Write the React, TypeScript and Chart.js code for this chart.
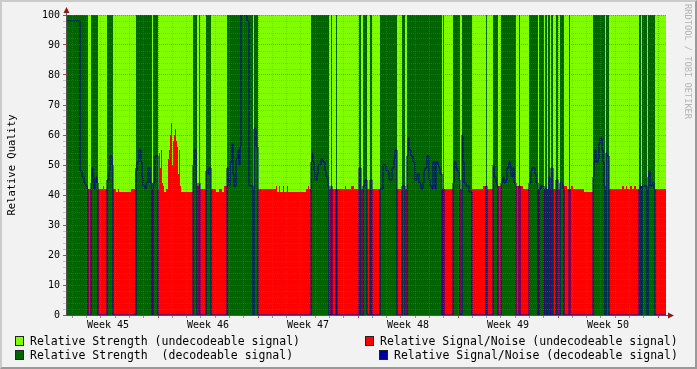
import React, { useEffect, useRef } from 'react';
import { Chart, registerables } from 'chart.js';

Chart.register(...registerables);

// ---- data ----------------------------------------------------------------
// Time axis: 600 columns, 100 columns per week; week 45 starts at column 92.
const TOTAL_COLUMNS = 600;
const COLUMNS_PER_WEEK = 100;
const FIRST_WEEK_START = 92;
const WEEK_LABELS = ['Week 45', 'Week 46', 'Week 47', 'Week 48', 'Week 49', 'Week 50'];

// [start, end) columns where the signal was decodeable
const decodeableSpans: [number, number][] = [
  [0, 22], [25, 32], [41, 47], [70, 86], [87, 92],
  [127, 131], [133, 134], [140, 145], [161, 187], [188, 192],
  [245, 263], [265, 266], [270, 271], [293, 295], [297, 301], [304, 306],
  [314, 331], [336, 339], [341, 376], [377, 378], [387, 394], [396, 406],
  [420, 421], [427, 432], [435, 450], [453, 454], [463, 472], [473, 478],
  [479, 481], [482, 484], [485, 487], [490, 492], [494, 498],
  [503, 504], [527, 539], [540, 543], [573, 575], [576, 581], [582, 589],
];

// relative signal/noise: [column where value starts, value]
const signalNoise: [number, number][] = [
  [0, 98], [14, 48], [16, 46], [18, 44], [20, 43], [21, 42],
  [25, 44], [26, 49], [27, 46], [28, 42], [29, 44], [30, 46], [31, 44], [32, 42], [37, 43], [38, 42],
  [41, 45], [43, 48], [44, 53], [46, 50], [47, 42], [50, 41], [52, 42], [53, 41], [65, 42], [69, 49],
  [70, 48], [71, 51], [73, 55], [75, 51], [76, 46], [77, 43], [79, 42], [80, 44], [82, 49], [84, 44],
  [86, 42], [87, 44], [89, 53], [92, 42], [93, 54], [94, 49], [95, 55], [96, 44], [97, 43], [98, 41],
  [100, 42], [102, 52], [103, 55], [104, 60], [105, 64], [106, 50], [107, 58], [108, 60], [109, 62],
  [110, 58], [111, 56], [112, 47], [113, 55], [114, 43], [115, 41],
  [127, 50], [128, 55], [130, 44], [131, 43], [133, 44], [134, 42], [140, 48], [142, 47], [143, 49],
  [145, 42], [150, 41], [153, 42], [156, 41], [158, 43],
  [161, 49], [162, 45], [163, 43], [164, 51], [166, 57], [167, 47], [168, 43], [170, 52], [172, 55],
  [173, 50], [174, 56], [175, 100], [181, 98], [183, 43], [187, 42], [188, 62], [190, 56],
  [192, 42], [210, 43], [211, 41], [213, 43], [214, 41], [217, 43], [218, 41], [221, 43], [222, 41],
  [240, 42], [242, 43], [243, 42],
  [245, 51], [246, 54], [247, 51], [248, 48], [249, 45], [251, 47], [252, 50], [255, 52], [257, 51],
  [259, 48], [260, 46], [262, 43],
  [263, 42], [265, 43], [266, 42], [279, 43], [280, 42], [285, 43], [288, 42],
  [293, 49], [295, 42], [297, 43], [299, 45], [301, 42], [304, 45], [306, 42],
  [314, 42], [317, 50], [320, 48], [323, 45], [326, 49], [328, 52], [329, 55], [331, 42], [336, 43], [339, 42],
  [341, 53], [342, 59], [343, 55], [345, 53], [347, 51], [349, 45], [351, 47], [353, 44], [355, 42],
  [357, 44], [358, 48], [359, 49], [361, 53], [363, 45], [364, 43], [366, 42], [367, 51], [369, 42],
  [370, 51], [372, 50], [373, 49], [374, 47],
  [376, 42], [387, 44], [388, 51], [390, 49], [391, 48], [393, 45], [394, 42],
  [396, 60], [397, 51], [398, 44], [400, 43], [403, 41],
  [406, 42], [417, 43], [420, 43], [421, 42], [427, 50], [428, 46], [430, 44], [431, 43], [432, 43],
  [435, 44], [437, 46], [438, 44], [440, 45], [441, 49], [443, 51], [444, 50], [445, 46], [447, 49], [448, 44],
  [450, 43], [457, 42], [463, 44], [465, 48], [466, 49], [469, 47], [470, 44], [472, 42], [475, 43],
  [478, 42], [483, 46], [484, 42], [485, 49], [487, 42], [490, 45], [492, 42], [494, 44], [497, 42],
  [498, 43], [501, 42],
  [504, 42], [505, 43], [507, 42], [518, 41],
  [527, 46], [528, 51], [529, 55], [530, 51], [532, 52], [533, 57], [534, 59], [536, 55], [537, 51],
  [538, 43], [539, 42], [540, 54], [541, 53], [543, 42], [556, 43], [558, 42], [560, 43], [561, 42],
  [564, 43], [566, 42], [568, 43], [570, 42],
  [574, 43], [581, 42], [582, 46], [583, 48], [584, 43], [586, 44], [588, 42],
];

const LEGEND = [
  { text: 'Relative Strength (undecodeable signal)', color: '#7FFF00' },
  { text: 'Relative Signal/Noise (undecodeable signal)', color: '#FF0000' },
  { text: 'Relative Strength  (decodeable signal)', color: '#006400' },
  { text: 'Relative Signal/Noise (decodeable signal)', color: '#0000A0' },
];

// ---- helpers --------------------------------------------------------------
const FONT = '"DejaVu Sans Mono", monospace';

function isDecodeable(c: number) {
  return decodeableSpans.some(([a, b]) => c >= a && c < b);
}
function snAt(c: number) {
  let v = signalNoise[0][1];
  for (const [x, val] of signalNoise) {
    if (x <= c) v = val;
    else break;
  }
  return v;
}

function buildSeries() {
  const light: { x: number; y: number }[] = [];
  const dark: { x: number; y: number }[] = [];
  const red: { x: number; y: number }[] = [];
  const blue: { x: number; y: number }[] = [];
  for (let c = 0; c <= TOTAL_COLUMNS; c++) {
    const cc = Math.min(c, TOTAL_COLUMNS - 1);
    const dec = isDecodeable(cc);
    const sn = snAt(cc);
    light.push({ x: c, y: dec ? 0 : 100 });
    dark.push({ x: c, y: dec ? 100 : 0 });
    red.push({ x: c, y: dec ? 0 : sn });
    blue.push({ x: c, y: dec ? sn : 0 });
  }
  return { light, dark, red, blue };
}

const dayPerWeek = 7;
const majorCols: number[] = [];
const dayCols: number[] = [];
for (let k = -dayPerWeek; k <= 6 * dayPerWeek; k++) {
  const v = FIRST_WEEK_START + (k * COLUMNS_PER_WEEK) / dayPerWeek;
  if (v <= 0 || v >= TOTAL_COLUMNS) continue;
  if (k % dayPerWeek === 0) majorCols.push(v);
  else dayCols.push(v);
}
const labelCols = WEEK_LABELS.map((_, i) => FIRST_WEEK_START - COLUMNS_PER_WEEK / 2 + i * COLUMNS_PER_WEEK);
const near = (arr: number[], v: number) => arr.findIndex((a) => Math.abs(a - v) < 1e-6);

const yTicks: number[] = [];
for (let v = 0; v <= 100; v += 2) yTicks.push(v);

const GRID_MINOR = 'rgba(120,120,120,0.32)';
const GRID_MAJOR = 'rgba(200,50,50,0.5)';

const axisArrows = {
  id: 'axisArrows',
  afterDraw(chart: any) {
    const { ctx, chartArea } = chart;
    const { left, right, top, bottom } = chartArea;
    ctx.save();
    ctx.strokeStyle = '#555';
    ctx.lineWidth = 1;
    ctx.beginPath();
    ctx.moveTo(left + 0.5, top);
    ctx.lineTo(left + 0.5, top - 4);
    ctx.moveTo(right, bottom + 0.5);
    ctx.lineTo(right + 4, bottom + 0.5);
    ctx.stroke();
    ctx.fillStyle = '#8B1A1A';
    ctx.beginPath();
    ctx.moveTo(left + 0.5, top - 8);
    ctx.lineTo(left - 2.5, top - 2);
    ctx.lineTo(left + 3.5, top - 2);
    ctx.closePath();
    ctx.fill();
    ctx.beginPath();
    ctx.moveTo(right + 8, bottom + 0.5);
    ctx.lineTo(right + 2, bottom - 2.5);
    ctx.lineTo(right + 2, bottom + 3.5);
    ctx.closePath();
    ctx.fill();
    ctx.restore();
  },
};

export default function App() {
  const ref = useRef<HTMLCanvasElement | null>(null);

  useEffect(() => {
    if (!ref.current) return;
    const s = buildSeries();
    const area = (label: string, data: any[], color: string, order: number) => ({
      label,
      data,
      backgroundColor: color,
      borderColor: color,
      borderWidth: 0,
      fill: 'origin',
      stepped: true,
      pointRadius: 0,
      order,
    });
    const chart = new Chart(ref.current, {
      type: 'line',
      data: {
        datasets: [
          area(LEGEND[0].text, s.light, LEGEND[0].color, 4),
          area(LEGEND[2].text, s.dark, LEGEND[2].color, 3),
          area(LEGEND[1].text, s.red, LEGEND[1].color, 2),
          {
            label: LEGEND[3].text,
            data: s.blue,
            borderColor: LEGEND[3].color,
            backgroundColor: LEGEND[3].color,
            borderWidth: 1,
            fill: false,
            stepped: true,
            pointRadius: 0,
            order: 1,
          },
        ] as any,
      },
      options: {
        animation: false,
        responsive: false,
        maintainAspectRatio: false,
        events: [],
        layout: { padding: { top: 15, right: 31, bottom: 0, left: 0 } },
        plugins: { legend: { display: false }, tooltip: { enabled: false } },
        scales: {
          x: {
            type: 'linear',
            min: 0,
            max: TOTAL_COLUMNS,
            afterFit: (sc: any) => {
              sc.height = 54;
            },
            afterBuildTicks: (sc: any) => {
              sc.ticks = [...majorCols, ...dayCols, ...labelCols].sort((a, b) => a - b).map((v) => ({ value: v }));
            },
            ticks: {
              autoSkip: false,
              maxRotation: 0,
              minRotation: 0,
              padding: 1,
              color: '#000',
              z: 2,
              font: { family: FONT, size: 10 },
              callback: (v: any) => {
                const i = near(labelCols, Number(v));
                return i >= 0 ? WEEK_LABELS[i] : '';
              },
            },
            grid: {
              z: 1,
              lineWidth: 1,
              tickLength: 3,
              color: (ctx: any) => {
                const v = ctx.tick ? ctx.tick.value : -1;
                if (near(labelCols, v) >= 0) return 'rgba(0,0,0,0)';
                return near(majorCols, v) >= 0 ? GRID_MAJOR : GRID_MINOR;
              },
              tickColor: (ctx: any) => {
                const v = ctx.tick ? ctx.tick.value : -1;
                if (near(labelCols, v) >= 0) return 'rgba(0,0,0,0)';
                return near(majorCols, v) >= 0 ? '#C04040' : '#999';
              },
            },
            border: { display: true, color: '#555', width: 1, dash: [1, 1], z: 2 },
          },
          y: {
            type: 'linear',
            min: 0,
            max: 100,
            afterFit: (sc: any) => {
              sc.width = 66;
            },
            afterBuildTicks: (sc: any) => {
              sc.ticks = yTicks.map((v) => ({ value: v }));
            },
            ticks: {
              autoSkip: false,
              padding: 3,
              color: '#000',
              z: 2,
              font: { family: FONT, size: 10 },
              callback: (v: any) => (Number(v) % 10 === 0 ? String(v) : ''),
            },
            grid: {
              z: 1,
              lineWidth: 1,
              tickLength: 3,
              color: (ctx: any) => {
                const v = ctx.tick ? ctx.tick.value : 1;
                return v % 10 === 0 ? GRID_MAJOR : GRID_MINOR;
              },
              tickColor: (ctx: any) => {
                const v = ctx.tick ? ctx.tick.value : 1;
                return v % 10 === 0 ? '#C04040' : 'rgba(150,150,150,0.5)';
              },
            },
            border: { display: true, color: '#555', width: 1, dash: [1, 1], z: 2 },
            title: {
              display: true,
              text: 'Relative Quality',
              color: '#000',
              font: { family: FONT, size: 10.5 },
              padding: { top: 6, bottom: 0 },
            },
          },
        },
      } as any,
      plugins: [axisArrows],
    });
    return () => chart.destroy();
  }, []);

  const legendPos = [
    { sx: 15, tx: 30, top: 334 },
    { sx: 365, tx: 380, top: 334 },
    { sx: 15, tx: 30, top: 348 },
    { sx: 379, tx: 394, top: 348 },
  ];

  return (
    <div
      style={{
        position: 'fixed',
        left: 0,
        top: 0,
        width: 697,
        height: 369,
        background: '#F2F2F2',
        overflow: 'hidden',
        fontFamily: FONT,
      }}
    >
      <canvas ref={ref} width={697} height={369} style={{ position: 'absolute', left: 0, top: 0, width: 697, height: 369 }} />
      <div
        style={{
          position: 'absolute',
          left: 683,
          top: 4,
          writingMode: 'vertical-rl',
          fontSize: 8.7,
          lineHeight: '10px',
          color: '#B4B4B4',
          whiteSpace: 'pre',
        }}
      >
        RRDTOOL / TOBI OETIKER
      </div>
      {LEGEND.map((item, i) => (
        <React.Fragment key={i}>
          <div
            style={{
              position: 'absolute',
              left: legendPos[i].sx,
              top: legendPos[i].top + 2,
              width: 7,
              height: 8,
              background: item.color,
              border: '1px solid #222',
            }}
          />
          <div
            style={{
              position: 'absolute',
              left: legendPos[i].tx,
              top: legendPos[i].top,
              fontSize: 11.5,
              lineHeight: '14px',
              color: '#000',
              whiteSpace: 'pre',
            }}
          >
            {item.text}
          </div>
        </React.Fragment>
      ))}
      <div
        style={{
          position: 'absolute',
          left: 0,
          top: 0,
          width: 697,
          height: 369,
          boxSizing: 'border-box',
          borderTop: '2px solid #CBCBCB',
          borderLeft: '2px solid #CBCBCB',
          borderRight: '2px solid #999999',
          borderBottom: '2px solid #999999',
          pointerEvents: 'none',
        }}
      />
    </div>
  );
}
